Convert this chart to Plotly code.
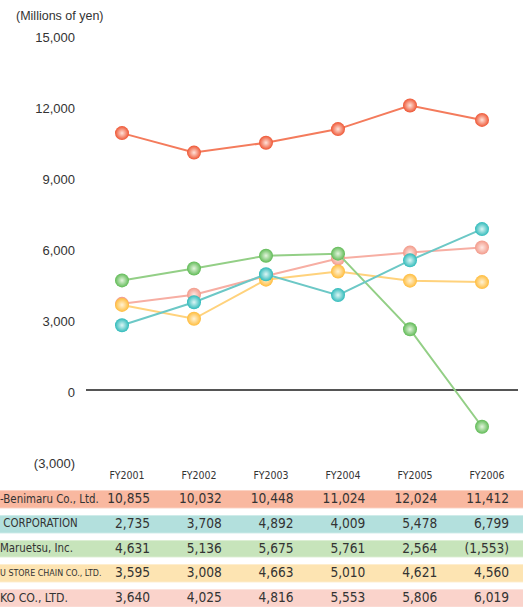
import plotly.graph_objects as go

# ---------------- data ----------------
years = ["FY2001", "FY2002", "FY2003", "FY2004", "FY2005", "FY2006"]
row_labels = ["-Benimaru Co., Ltd.", " CORPORATION", "Maruetsu, Inc.",
              "U STORE CHAIN CO., LTD.", "KO CO., LTD."]
benimaru = [10855, 10032, 10448, 11024, 12024, 11412]
corporation = [2735, 3708, 4892, 4009, 5478, 6799]
maruetsu = [4631, 5136, 5675, 5761, 2564, -1553]
ustore = [3595, 3008, 4663, 5010, 4621, 4560]
ko = [3640, 4025, 4816, 5553, 5806, 6019]
y_ticks = [-3000, 0, 3000, 6000, 9000, 12000, 15000]
unit_label = "(Millions of yen)"

table_rows = [benimaru, corporation, maruetsu, ustore, ko]

# ---------------- styles ----------------
W, H = 523, 607
NARROW = "Liberation Sans Narrow, DejaVu Sans Condensed, sans-serif"
SANS = "Liberation Sans, Arial, sans-serif"
TXT = "#333333"

line_cols = ["#F47B5C", "#6CC8C6", "#93CF86", "#FFD27C", "#F7AEA3"]
mark_cols = ["#EE5533", "#2FBABA", "#5FBA55", "#FFBC3C", "#F29A8A"]
mark_hi = ["#FFE3DA", "#DDF6F5", "#E4F5DE", "#FFF3D6", "#FFE8E3"]
row_fill = ["#F9B8A0", "#B3E0DD", "#C7E4BB", "#FDE4B2", "#FAD3CB"]
label_sizes = [11.4, 11.4, 11.4, 8.9, 12.2]


def fmt(v):
    s = f"{abs(v):,}"
    return f"({s})" if v < 0 else s


def px_x(p):
    return p / W


def px_y(p):
    return 1 - p / H


fig = go.Figure()

# draw order bottom -> top
order = [4, 3, 2, 1, 0]
for i in order:
    fig.add_trace(go.Scatter(
        x=years, y=table_rows[i], mode="lines+markers",
        line=dict(color=line_cols[i], width=2),
        marker=dict(size=14, color=mark_cols[i],
                    gradient=dict(type="radial", color=mark_hi[i]),
                    line=dict(width=0)),
        hoverinfo="skip", showlegend=False,
        xaxis="x", yaxis="y"))

# ---------------- table backgrounds ----------------
n = len(row_labels)
fig.add_trace(go.Heatmap(
    z=[[k] for k in range(n)], x=[0], y=list(range(n)),
    colorscale=[[k / (n - 1), row_fill[k]] for k in range(n)],
    zmin=0, zmax=n - 1, showscale=False, ygap=7.25, xgap=0,
    hoverinfo="skip", xaxis="x2", yaxis="y2"))

# ---------------- table texts ----------------
col_scale = 71.8    # px per column
col0_right = 150.0  # px anchor of first value column
x3_min = -col0_right / col_scale
x3_max = (W - col0_right) / col_scale

for r in range(n):
    fig.add_trace(go.Scatter(
        x=list(range(len(years))), y=[r] * len(years), mode="text",
        text=[fmt(v) for v in table_rows[r]], textposition="middle left",
        textfont=dict(family=NARROW, size=13.6, color=TXT),
        cliponaxis=False, hoverinfo="skip", showlegend=False,
        xaxis="x3", yaxis="y2"))
    fig.add_trace(go.Scatter(
        x=[x3_min], y=[r], mode="text",
        text=[row_labels[r]], textposition="middle right",
        textfont=dict(family=NARROW, size=label_sizes[r], color=TXT),
        cliponaxis=False, hoverinfo="skip", showlegend=False,
        xaxis="x3", yaxis="y2"))

row_h = 24.75
tbl_top = 487.375
y2_bottom = -0.5 + (H - tbl_top) / row_h

fig.update_layout(
    template="none",
    width=W, height=H, autosize=False,
    margin=dict(l=0, r=0, t=0, b=0, pad=0, autoexpand=False),
    paper_bgcolor="white", plot_bgcolor="rgba(0,0,0,0)",
    font=dict(family=SANS, size=13, color=TXT),
    xaxis=dict(domain=[px_x(86), px_x(518)], range=[-0.5, 5.5],
               type="category", showgrid=False, zeroline=False,
               showline=False, ticks="", anchor="y", automargin=False,
               tickfont=dict(family=NARROW, size=10.5, color=TXT),
               ticklabelshift=5, ticklabelstandoff=6, fixedrange=True),
    yaxis=dict(domain=[px_y(461), px_y(35)], range=[-3000, 15000],
               tickvals=y_ticks, ticktext=[fmt(v) for v in y_ticks],
               showgrid=False, zeroline=True, zerolinecolor="#555555",
               zerolinewidth=1.5, showline=False, ticks="", anchor="x",
               automargin=False,
               tickfont=dict(family=SANS, size=13, color=TXT),
               ticklabelstandoff=10, ticklabelshift=2, fixedrange=True),
    xaxis2=dict(domain=[0, 1], range=[-0.5, 0.5], visible=False,
                anchor="y2", fixedrange=True, automargin=False),
    xaxis3=dict(domain=[0, 1], range=[x3_min, x3_max], visible=False,
                overlaying="x2", anchor="y2", fixedrange=True,
                automargin=False),
    yaxis2=dict(domain=[0, px_y(tbl_top)], range=[y2_bottom, -0.5],
                visible=False, anchor="x2", fixedrange=True,
                automargin=False),
    annotations=[dict(text=unit_label, x=px_x(14), y=px_y(16),
                      xref="paper", yref="paper", xanchor="left",
                      yanchor="middle", showarrow=False,
                      font=dict(family=SANS, size=12.5, color=TXT))],
)

post = ("document.body.style.margin='0';"
        "document.body.style.overflow='hidden';")

fig.write_html("out.html", post_script=post,
               config={"displayModeBar": False, "staticPlot": True})
